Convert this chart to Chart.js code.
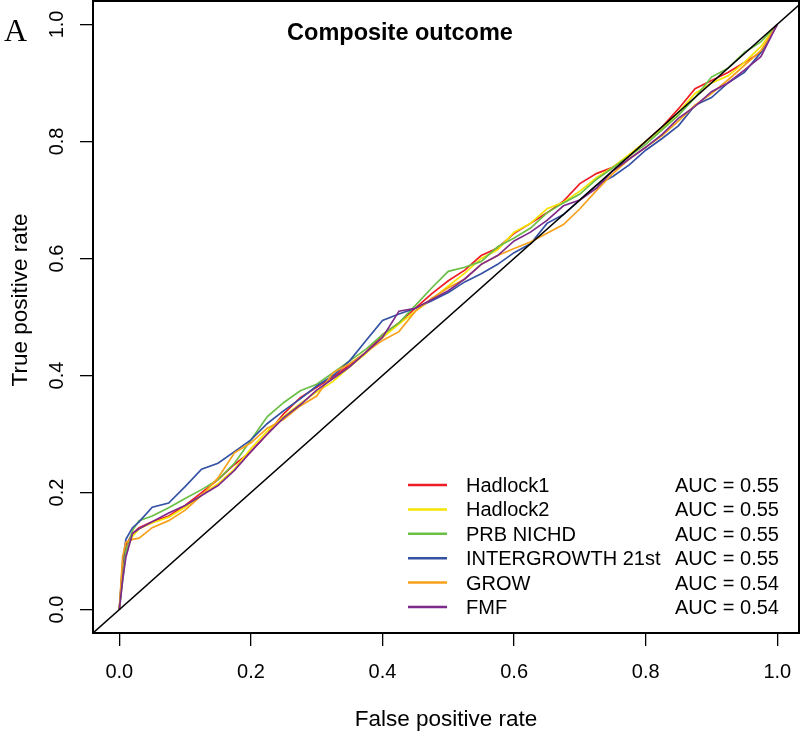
<!DOCTYPE html>
<html>
<head>
<meta charset="utf-8">
<script src="https://cdn.jsdelivr.net/npm/chart.js@4/dist/chart.umd.min.js"></script>
<style>
  html, body { margin: 0; padding: 0; background: #fff; }
  #wrap { width: 800px; height: 734px; }
</style>
</head>
<body>
<div id="wrap"><canvas id="rocChart" width="800" height="734"></canvas></div>
<script>
// false positive rate grid shared by all curves
const fpr = [0, 0.005, 0.01, 0.02, 0.03, 0.05, 0.075, 0.1, 0.125, 0.15, 0.175, 0.2, 0.225, 0.25, 0.275, 0.3,
  0.325, 0.35, 0.375, 0.4, 0.425, 0.45, 0.475, 0.5, 0.525, 0.55, 0.575, 0.6, 0.625, 0.65, 0.675, 0.7,
  0.725, 0.75, 0.775, 0.8, 0.825, 0.85, 0.875, 0.9, 0.925, 0.95, 0.975, 1];

const hadlock1 = [0, .07, .11, .13, .14, .15, .16, .178, .2, .222, .248, .27, .30, .335, .362, .38,
  .398, .418, .44, .47, .49, .515, .54, .562, .58, .605, .618, .643, .66, .678, .698, .728,
  .745, .756, .775, .80, .825, .856, .89, .904, .918, .935, .952, 1];
const hadlock2 = [0, .06, .10, .125, .138, .148, .158, .175, .196, .215, .24, .275, .305, .33, .352, .372,
  .39, .415, .438, .465, .488, .51, .53, .553, .575, .60, .615, .645, .66, .685, .696, .715,
  .738, .756, .778, .80, .822, .85, .882, .90, .912, .935, .962, 1];
const prbNichd = [0, .05, .10, .135, .152, .16, .174, .19, .205, .222, .25, .29, .33, .354, .374, .385,
  .405, .425, .445, .47, .49, .52, .55, .578, .585, .595, .62, .635, .652, .678, .695, .71,
  .735, .755, .775, .795, .82, .845, .875, .91, .925, .952, .97, 1];
const intergrowth = [0, .08, .12, .14, .15, .175, .182, .21, .24, .25, .27, .29, .318, .34, .36, .382,
  .40, .425, .46, .494, .505, .515, .528, .542, .56, .574, .59, .61, .625, .66, .675, .70,
  .725, .74, .76, .785, .805, .827, .862, .875, .90, .918, .952, 1];
const grow = [0, .09, .115, .12, .122, .14, .152, .17, .195, .225, .268, .285, .31, .325, .348, .365,
  .405, .42, .44, .46, .475, .51, .532, .55, .565, .59, .605, .617, .628, .643, .658, .685,
  .716, .745, .77, .79, .81, .835, .862, .882, .905, .93, .955, 1];
const fmf = [0, .05, .09, .13, .138, .15, .165, .178, .195, .212, .238, .27, .30, .328, .35, .375,
  .395, .415, .44, .465, .51, .515, .53, .545, .565, .59, .605, .63, .645, .665, .69, .70,
  .72, .75, .77, .79, .812, .84, .86, .885, .90, .922, .945, 1];

const seriesNames = ['Hadlock1', 'Hadlock2', 'PRB NICHD', 'INTERGROWTH 21st', 'GROW', 'FMF'];
const aucLabels = ['AUC = 0.55', 'AUC = 0.55', 'AUC = 0.55', 'AUC = 0.55', 'AUC = 0.54', 'AUC = 0.54'];
const seriesColors = ['#ee1c25', '#f5e400', '#6abf45', '#3452a4', '#f7a11a', '#7e2a8c'];
const tickValues = [0, 0.2, 0.4, 0.6, 0.8, 1.0];
const tickLabels = ['0.0', '0.2', '0.4', '0.6', '0.8', '1.0'];

const allSeries = [hadlock1, hadlock2, prbNichd, intergrowth, grow, fmf];

const datasets = allSeries.map((tpr, i) => ({
  label: seriesNames[i],
  data: fpr.map((x, j) => ({ x: x, y: tpr[j] })),
  borderColor: seriesColors[i],
  borderWidth: 1.7,
  pointRadius: 0,
  tension: 0,
  order: allSeries.length - i   // R draws later curves on top
}));

// reference diagonal, clipped by the chart area
datasets.push({
  label: 'chance',
  data: [{ x: -0.1, y: -0.1 }, { x: 1.1, y: 1.1 }],
  borderColor: '#000',
  borderWidth: 1.5,
  pointRadius: 0,
  order: -1
});

const sans = '"Liberation Sans", Arial, sans-serif';

const rDecor = {
  id: 'rDecor',
  afterDraw(chart) {
    const { ctx, chartArea: a, scales } = chart;
    ctx.save();
    ctx.fillStyle = '#000';
    ctx.strokeStyle = '#000';

    // box around the plot
    ctx.lineWidth = 2;
    ctx.strokeRect(a.left, a.top, a.right - a.left, a.bottom - a.top);

    // tick labels
    ctx.font = '20px ' + sans;
    ctx.textAlign = 'center';
    ctx.textBaseline = 'alphabetic';
    tickValues.forEach((v, i) => {
      ctx.fillText(tickLabels[i], scales.x.getPixelForValue(v), 678);
      const py = scales.y.getPixelForValue(v);
      ctx.save();
      ctx.translate(63, py);
      ctx.rotate(-Math.PI / 2);
      ctx.fillText(tickLabels[i], 0, 0);
      ctx.restore();
    });

    // axis titles
    ctx.font = '22.5px ' + sans;
    ctx.fillText('False positive rate', (a.left + a.right) / 2, 726);
    ctx.save();
    ctx.translate(27, 300);
    ctx.rotate(-Math.PI / 2);
    ctx.fillText('True positive rate', 0, 0);
    ctx.restore();

    // main title and panel letter
    ctx.font = 'bold 23.5px ' + sans;
    ctx.fillText('Composite outcome', 400, 40);
    ctx.textAlign = 'left';
    ctx.font = '32px "Liberation Serif", "Times New Roman", serif';
    ctx.fillText('A', 4, 41);

    // legend
    ctx.font = '20px ' + sans;
    seriesNames.forEach((name, i) => {
      const y = 485 + i * 24.4;
      ctx.strokeStyle = seriesColors[i];
      ctx.lineWidth = 2.5;
      ctx.beginPath();
      ctx.moveTo(408, y);
      ctx.lineTo(447, y);
      ctx.stroke();
      ctx.fillText(name, 466, y + 7);
      ctx.fillText(aucLabels[i], 675, y + 7);
    });
    ctx.restore();
  }
};

new Chart(document.getElementById('rocChart'), {
  type: 'line',
  data: { datasets: datasets },
  options: {
    responsive: false,
    animation: false,
    layout: { autoPadding: false, padding: { top: 1, right: 1, left: 0, bottom: 0 } },
    plugins: {
      legend: { display: false },
      tooltip: { enabled: false }
    },
    scales: {
      x: {
        type: 'linear',
        min: -0.04,
        max: 1.033,
        afterBuildTicks: (s) => { s.ticks = tickValues.map(v => ({ value: v })); },
        afterFit: (s) => { s.height = 101; },
        ticks: { display: false },
        grid: { drawOnChartArea: false, drawTicks: true, tickLength: 13, color: '#000', lineWidth: 1.3 },
        border: { display: false }
      },
      y: {
        type: 'linear',
        min: -0.04,
        max: 1.04,
        afterBuildTicks: (s) => { s.ticks = tickValues.map(v => ({ value: v })); },
        afterFit: (s) => { s.width = 93; },
        ticks: { display: false },
        grid: { drawOnChartArea: false, drawTicks: true, tickLength: 13, color: '#000', lineWidth: 1.3 },
        border: { display: false }
      }
    }
  },
  plugins: [rDecor]
});
</script>
</body>
</html>
